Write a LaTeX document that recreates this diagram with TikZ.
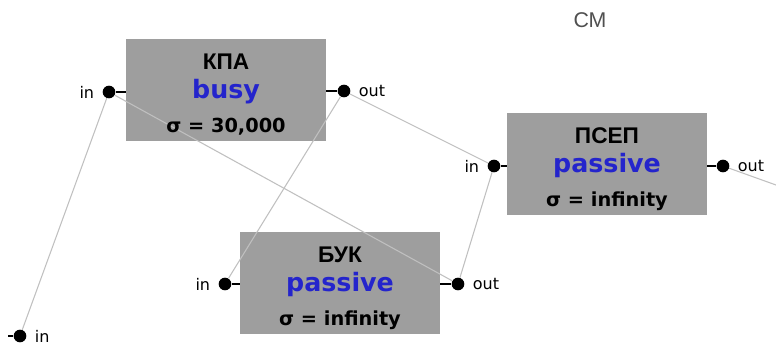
\documentclass[tikz,border=0pt]{standalone}
\usepackage{fontspec}
\setmainfont{Liberation Sans}
\newfontfamily\verdana{DejaVu Sans}
\usetikzlibrary{positioning,calc}

\definecolor{boxgray}{RGB}{158,158,158}
\definecolor{stateblue}{RGB}{36,36,204}
\definecolor{wiregray}{RGB}{192,192,192}
\definecolor{namegray}{RGB}{80,80,80}

\tikzstyle{block} = [fill=boxgray, minimum width=150pt, minimum height=76.5pt, inner sep=0]
\tikzstyle{dot} = [fill=black, circle, inner sep=0, minimum size=9.5pt]
\tikzstyle{port} = [font=\verdana\fontsize{12}{14}\selectfont, inner sep=0]
\tikzstyle{title} = [font=\bfseries\fontsize{17}{20}\selectfont, anchor=base, inner sep=0]
\tikzstyle{phase} = [font=\verdana\bfseries\fontsize{19}{22}\selectfont, text=stateblue, anchor=base, inner sep=0]
\tikzstyle{sigma} = [font=\verdana\bfseries\fontsize{14.5}{17}\selectfont, anchor=base, inner sep=0]
\tikzstyle{wire} = [draw=wiregray, line width=0.8pt]
\tikzstyle{stub} = [draw=black, line width=1.2pt]

\begin{document}
\begin{tikzpicture}[x=0.75pt,y=-0.75pt,node distance=6pt]
\useasboundingbox (0,0) rectangle (776,347);

% blocks
\node[block] (kpa) at (226,90) {};
\node[block] (psep) at (607,164) {};
\node[block] (buk) at (340,283) {};

% ports
\node[dot] (kpain) at (109,92) {};
\node[dot] (kpaout) at (344,91) {};
\node[dot] (psepin) at (494,166) {};
\node[dot] (psepout) at (723,166) {};
\node[dot] (bukin) at (225,284) {};
\node[dot] (bukout) at (458,284) {};
\node[dot] (in) at (20,336) {};
\coordinate (instub) at (8,336);
\coordinate (outend) at (776,185);

\node[port, left=of kpain] (kpainlbl) {in};
\node[port, right=of kpaout] (kpaoutlbl) {out};
\node[port, left=of psepin] (psepinlbl) {in};
\node[port, right=of psepout] (psepoutlbl) {out};
\node[port, left=of bukin] (bukinlbl) {in};
\node[port, right=of bukout] (bukoutlbl) {out};
\node[port, right=of in] (inlbl) {in};

\path
(kpa.west |- kpain) edge [stub] (kpain)
(kpa.east |- kpaout) edge [stub] (kpaout)
(psep.west |- psepin) edge [stub] (psepin)
(psep.east |- psepout) edge [stub] (psepout)
(buk.west |- bukin) edge [stub] (bukin)
(buk.east |- bukout) edge [stub] (bukout)
(instub) edge [stub] (in);

% couplings
\path
(in) edge [wire] (kpain)
(kpain) edge [wire] (bukout)
(kpaout) edge [wire] (bukin)
(kpaout) edge [wire] (psepin)
(bukout) edge [wire] (psepin)
(psepout) edge [wire] (outend);

% block texts
\node[title] (kpaname) at ($(kpa)+(0,-21)$) {КПА};
\node[phase] (kpaphase) at ($(kpa)+(0,8)$) {busy};
\node[sigma] (kpasigma) at ($(kpa)+(0,42)$) {σ = 30,000};

\node[title] (psepname) at ($(psep)+(0,-21)$) {ПСЕП};
\node[phase] (psepphase) at ($(psep)+(0,8)$) {passive};
\node[sigma] (psepsigma) at ($(psep)+(0,42)$) {σ = infinity};

\node[title] (bukname) at ($(buk)+(0,-21)$) {БУК};
\node[phase] (bukphase) at ($(buk)+(0,8)$) {passive};
\node[sigma] (buksigma) at ($(buk)+(0,42)$) {σ = infinity};

\node[font=\fontsize{16}{19}\selectfont, text=namegray] (cm) at (590,20) {СМ};
\end{tikzpicture}
\end{document}
